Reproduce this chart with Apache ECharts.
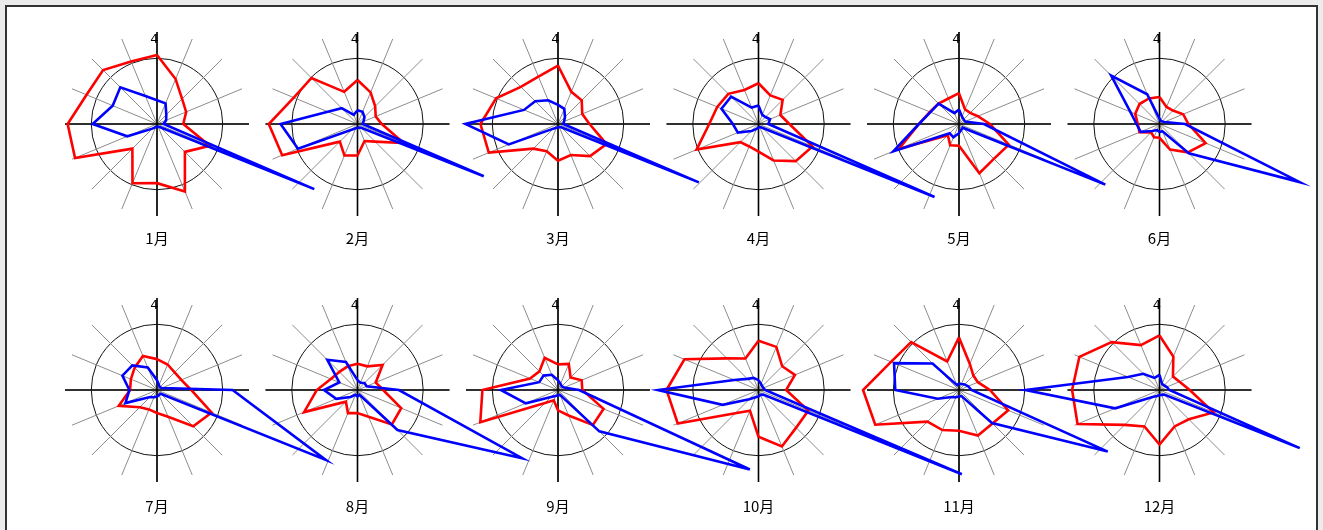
<!DOCTYPE html>
<html>
<head>
<meta charset="utf-8">
<script src="https://cdn.jsdelivr.net/npm/echarts@6/dist/echarts.min.js"></script>
<style>
  html, body { margin: 0; padding: 0; background: #ececec; }
  #frame { position: absolute; left: 5px; top: 5px; width: 1309px; height: 540px; background: #fff; border: 2px solid #333; }
  #chart { position: absolute; left: 0; top: 0; width: 1323px; height: 530px; }
</style>
</head>
<body>
<div id="frame"></div>
<div id="chart"></div>
<script>
// 16方位 (N から時計回り)
const directions = ['N', 'NNE', 'NE', 'ENE', 'E', 'ESE', 'SE', 'SSE', 'S', 'SSW', 'SW', 'WSW', 'W', 'WNW', 'NW', 'NNW']
const months = ['1月', '2月', '3月', '4月', '5月', '6月', '7月', '8月', '9月', '10月', '11月', '12月']

// 赤線 (月ごと, 16方位)
const redJan = [10.5, 7.4, 5.4, 4.8, 4.0, 8.7, 6.0, 11.1, 9.0, 9.75, 5.3, 13.5, 13.6, 11.6, 11.6, 10.3]
const redFeb = [6.7, 5.2, 3.8, 3.0, 3.7, 7.6, 3.8, 2.8, 4.8, 5.2, 3.8, 12.4, 13.5, 10.5, 9.9, 5.3]
const redMar = [8.9, 5.3, 5.1, 4.0, 4.8, 8.0, 6.9, 5.1, 5.6, 4.5, 5.3, 11.4, 11.8, 10.2, 8.0, 7.8]
const redApr = [6.2, 4.7, 5.2, 3.6, 4.7, 8.9, 8.0, 6.0, 4.2, 3.7, 3.9, 10.2, 7.5, 6.8, 6.5, 5.6]
const redMay = [4.7, 2.4, 2.4, 3.1, 4.7, 8.2, 7.5, 8.1, 3.3, 3.5, 2.4, 9.9, 6.1, 4.8, 4.4, 4.2]
const redJun = [4.1, 2.8, 2.9, 3.9, 4.4, 7.6, 6.1, 4.2, 2.1, 2.2, 1.8, 3.3, 3.3, 4.0, 4.3, 4.2]
const redJul = [4.7, 4.2, 3.8, 4.0, 5.2, 9.0, 7.8, 4.4, 3.5, 3.2, 3.7, 6.3, 4.1, 4.3, 4.8, 5.6]
const redAug = [4.0, 3.9, 5.4, 3.0, 3.9, 7.2, 7.4, 4.4, 3.5, 3.8, 2.5, 8.8, 6.2, 4.4, 3.9, 3.9]
const redSep = [3.9, 4.3, 2.7, 3.9, 3.7, 7.5, 7.5, 4.2, 3.1, 1.7, 2.8, 12.8, 11.5, 4.6, 4.0, 5.3]
const redOct = [7.5, 7.1, 5.1, 6.0, 4.2, 8.2, 8.1, 9.3, 7.1, 3.4, 5.0, 13.3, 14.0, 12.2, 6.8, 5.2]
const redNov = [8.0, 4.3, 3.1, 3.1, 4.7, 8.1, 7.2, 7.5, 6.2, 6.6, 6.8, 13.8, 14.6, 11.2, 10.3, 4.7]
const redDec = [8.3, 5.5, 2.9, 3.3, 4.6, 8.9, 6.3, 6.0, 8.3, 6.0, 7.5, 13.5, 13.3, 13.2, 10.3, 7.4]

// 青線 (月ごと, 16方位)
const blueJan = [3.6, 3.4, 2.0, 1.5, 1.0, 25.9, 0.7, 0.5, 0.4, 0.4, 1.0, 4.9, 9.8, 7.3, 7.9, 4.6]
const blueFeb = [2.1, 2.0, 1.5, 1.0, 0.8, 20.8, 0.8, 0.6, 0.6, 0.7, 0.8, 9.8, 11.7, 4.9, 3.4, 1.5]
const blueMar = [2.9, 2.5, 1.5, 1.0, 0.8, 23.2, 0.7, 0.5, 0.5, 0.6, 1.0, 8.1, 14.1, 5.6, 4.9, 3.9]
const blueApr = [2.8, 1.5, 1.5, 1.9, 1.5, 29.0, 0.8, 0.5, 0.5, 0.8, 1.5, 3.4, 3.9, 6.1, 5.9, 2.7]
const blueMay = [2.2, 1.2, 1.0, 1.0, 3.8, 24.1, 0.8, 0.8, 1.4, 2.2, 2.0, 10.8, 6.1, 4.7, 4.4, 1.8]
const blueJun = [0.8, 0.5, 0.5, 0.8, 3.9, 23.1, 6.3, 1.2, 1.2, 1.0, 1.5, 3.1, 3.5, 4.8, 10.4, 4.9]
const blueJul = [1.5, 0.8, 0.6, 0.8, 11.5, 27.8, 0.8, 0.8, 1.0, 1.2, 1.5, 5.2, 4.2, 5.7, 5.3, 3.7]
const blueAug = [1.5, 1.2, 1.5, 1.5, 6.3, 27.1, 8.6, 0.8, 1.0, 0.8, 1.5, 3.5, 5.1, 3.0, 6.5, 4.6]
const blueSep = [1.5, 1.0, 0.8, 1.0, 3.2, 31.6, 8.9, 0.8, 0.8, 1.0, 1.5, 5.3, 8.7, 3.1, 3.1, 2.5]
const blueOct = [1.5, 1.0, 0.8, 0.8, 1.0, 33.5, 1.0, 0.8, 1.0, 1.2, 2.0, 5.9, 15.3, 4.0, 2.4, 2.0]
const blueNov = [1.0, 1.0, 1.2, 1.5, 1.9, 24.5, 7.1, 1.0, 1.0, 1.2, 1.5, 3.5, 9.7, 10.7, 5.7, 0.8]
const blueDec = [2.3, 1.0, 1.0, 1.2, 1.5, 23.1, 1.0, 0.8, 0.8, 1.0, 1.5, 7.3, 20.4, 5.2, 3.5, 2.0]

const redList = [redJan, redFeb, redMar, redApr, redMay, redJun, redJul, redAug, redSep, redOct, redNov, redDec]
const blueList = [blueJan, blueFeb, blueMar, blueApr, blueMay, blueJun, blueJul, blueAug, blueSep, blueOct, blueNov, blueDec]

// 配置
const centerX = [157, 357.5, 558, 758.5, 959, 1159.5]
const centerY = [124, 390]
const labelY = [238, 506]
const SPOKE = 92 // 放射線の長さ(px)
const AXIS_MAX = 14 // 円 = 10
const DATA_MAX = 40

const chart = echarts.init(document.getElementById('chart'), null, { renderer: 'canvas' })

const polar = []
const angleAxis = []
const radiusAxis = []
const series = []
const graphic = []

const hidden = { axisLine: { show: false }, axisTick: { show: false }, axisLabel: { show: false } }

months.forEach((m, k) => {
  const cx = centerX[k % 6]
  const cy = centerY[Math.floor(k / 6)]
  const base = polar.length

  // 灰色の放射線 + 円
  polar.push({ center: [cx, cy], radius: SPOKE })
  angleAxis.push({
    polarIndex: base, type: 'value', min: 0, max: 360, interval: 22.5, startAngle: 90, clockwise: true,
    ...hidden,
    splitLine: { show: true, lineStyle: { color: '#8c8c8c', width: 1 } },
  })
  radiusAxis.push({
    polarIndex: base, type: 'value', min: 0, max: AXIS_MAX, interval: 10,
    ...hidden,
    splitLine: { show: true, lineStyle: { color: ['rgba(0,0,0,0)', '#111', 'rgba(0,0,0,0)'], width: 1 } },
  })

  // 黒の十字
  polar.push({ center: [cx, cy], radius: SPOKE })
  angleAxis.push({
    polarIndex: base + 1, type: 'value', min: 0, max: 360, interval: 90, startAngle: 90, clockwise: true,
    ...hidden,
    splitLine: { show: true, lineStyle: { color: '#000', width: 1.6 } },
  })
  radiusAxis.push({ polarIndex: base + 1, type: 'value', min: 0, max: AXIS_MAX, ...hidden, splitLine: { show: false } })

  // データ用 (はみ出す青線のため大きめ)
  polar.push({ center: [cx, cy], radius: SPOKE * DATA_MAX / AXIS_MAX })
  angleAxis.push({ polarIndex: base + 2, type: 'value', min: 0, max: 360, startAngle: 90, clockwise: true, show: false })
  radiusAxis.push({ polarIndex: base + 2, type: 'value', min: 0, max: DATA_MAX, show: false })

  const toPoints = arr => {
    const pts = arr.map((v, i) => [v, i * 360 / directions.length])
    pts.push([arr[0], 0])
    return pts
  }

  series.push({
    name: m + '_red', type: 'line', coordinateSystem: 'polar', polarIndex: base + 2,
    data: toPoints(redList[k]), symbol: 'none', silent: true, z: 3,
    lineStyle: { color: '#ff0000', width: 2.6, join: 'miter' },
  })
  series.push({
    name: m + '_blue', type: 'line', coordinateSystem: 'polar', polarIndex: base + 2,
    data: toPoints(blueList[k]), symbol: 'none', silent: true, z: 4,
    lineStyle: { color: '#0000ff', width: 2.6, join: 'miter' },
  })

  // 月ラベル
  graphic.push({
    type: 'text', x: cx, y: labelY[Math.floor(k / 6)], z: 10,
    style: { text: m, fill: '#000', font: '15px "Noto Sans CJK JP"', textAlign: 'center', textVerticalAlign: 'middle' },
  })
  // 北マーク
  graphic.push({
    type: 'text', x: cx + 1.5, y: cy - 84, z: 10,
    style: { text: '4', fill: '#000', font: '13px "DejaVu Sans"', textAlign: 'right', textVerticalAlign: 'middle' },
  })
})

chart.setOption({
  animation: false,
  polar,
  angleAxis,
  radiusAxis,
  series,
  graphic,
})
</script>
</body>
</html>
